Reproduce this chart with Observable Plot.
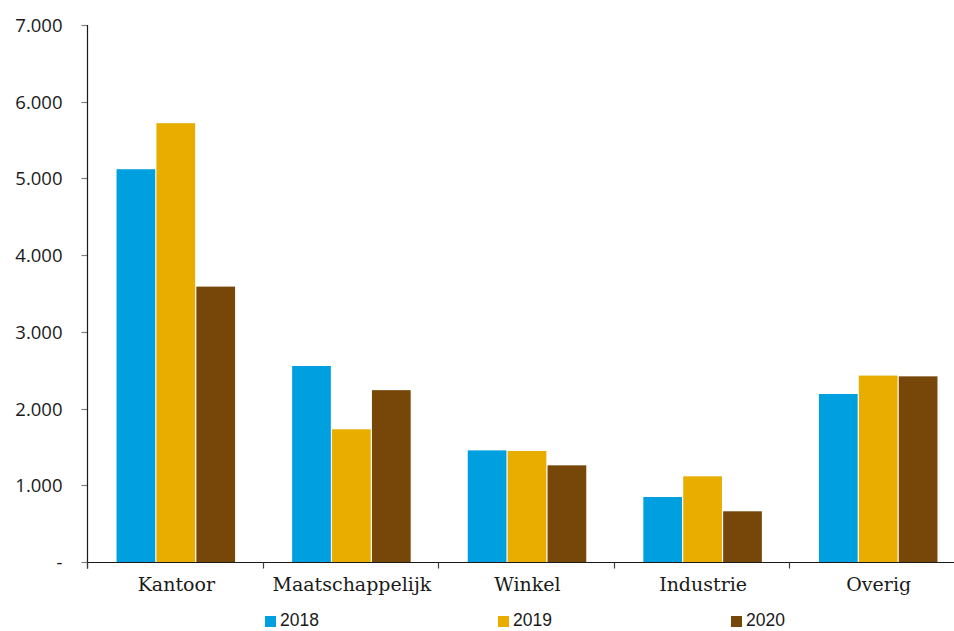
<!DOCTYPE html>
<html><head><meta charset="utf-8">
<script src="https://cdn.jsdelivr.net/npm/d3@7"></script>
<script src="https://cdn.jsdelivr.net/npm/@observablehq/plot@0.6"></script>
<style>
body{margin:0;background:#fff;}
#wrap{position:relative;width:954px;height:631px;overflow:hidden;background:#fff;}
#chart{position:absolute;left:0;top:0;width:966px;}
#chart svg{max-width:none !important;}
#legend{position:absolute;left:265px;top:611px;display:flex;align-items:center;font-family:"Liberation Sans";font-size:17.5px;line-height:19.5px;color:#1a1a1a;}
.item{display:flex;align-items:center;width:233px;}
.sw{width:11px;height:11px;margin-right:4px;margin-top:1px;}
</style></head><body>
<div id="wrap"><div id="chart"></div><div id="legend"></div></div>
<script>
const categories = ["Kantoor", "Maatschappelijk", "Winkel", "Industrie", "Overig"];
const years = ["2018", "2019", "2020"];
const values2018 = [5120, 2555, 1455, 847, 2190];
const values2019 = [5720, 1730, 1447, 1117, 2430];
const values2020 = [3590, 2240, 1260, 661, 2420];
const yTicks = [0, 1000, 2000, 3000, 4000, 5000, 6000, 7000];
const colors = ["#009fe0", "#e9ad00", "#774609"];

const series = [values2018, values2019, values2020];
const data = [];
categories.forEach((c, i) => years.forEach((y, j) => data.push({cat: c, year: y, value: series[j][i]})));

const fmt = d => d === 0 ? "-" : d3.format(",")(d).replace(/,/g, ".");

const plot = Plot.plot({
  width: 966, height: 605,
  marginLeft: 88, marginRight: 0, marginTop: 25, marginBottom: 43,
  style: {fontFamily: "Open Sans", fontSize: "18px", background: "transparent", color: "#1a1a1a", maxWidth: "none"},
  fx: {domain: categories, paddingInner: 0.325, paddingOuter: 0.1625, round: false, label: null},
  x: {domain: years, paddingInner: 0.03, paddingOuter: 0, round: false, axis: null},
  y: {domain: [0, 7000], axis: null},
  color: {domain: years, range: colors},
  marks: [
    Plot.barY(data, {fx: "cat", x: "year", y: "value", fill: "year"}),
    Plot.axisFx({anchor: "bottom", tickSize: 0, tickPadding: 15, label: null, fontFamily: "DejaVu Serif", fontSize: 19, fill: "#1a1a1a"})
  ]
});
document.getElementById("chart").appendChild(plot);

// axes lines & ticks from Plot's scales
const svg = d3.select(plot);
const ys = plot.scale("y");
const yScale = d3.scaleLinear(ys.domain, ys.range);
const fxs = plot.scale("fx");
const half = fxs.step * fxs.paddingInner / 2;
const bounds = categories.map(c => fxs.apply(c) - half);
bounds.push(fxs.apply(categories[categories.length - 1]) + fxs.bandwidth + half);

const g = svg.append("g").attr("stroke-width", 1.2).attr("fill", "none");
const x0 = Math.round(bounds[0]) - 0.5;
const y0 = Math.round(yScale(0)) + 0.5;
// y ticks
yTicks.forEach(t => {
  const yy = Math.round(yScale(t)) + 0.5;
  g.append("line").attr("stroke", "#808080").attr("x1", x0 - 6).attr("x2", x0).attr("y1", yy).attr("y2", yy);
  svg.append("text").attr("x", x0 - 25).attr("y", yy).attr("dy", "0.35em")
    .attr("text-anchor", "end").attr("font-family", "Open Sans").attr("font-size", 18.5)
    .attr("fill", "#1a1a1a").text(fmt(t));
});
// y axis line
g.append("line").attr("stroke", "#1a1a1a").attr("x1", x0).attr("x2", x0).attr("y1", yScale(7000)).attr("y2", y0 + 6);
// baseline
g.append("line").attr("stroke", "#1a1a1a").attr("x1", x0).attr("x2", bounds[bounds.length - 1]).attr("y1", y0).attr("y2", y0);
// category boundary ticks
bounds.forEach(b => {
  const xx = Math.round(b) - 0.5;
  g.append("line").attr("stroke", "#404040").attr("x1", xx).attr("x2", xx).attr("y1", y0).attr("y2", y0 + 6);
});

// legend
const leg = d3.select("#legend");
years.forEach((y, j) => {
  const it = leg.append("div").attr("class", "item");
  it.append("div").attr("class", "sw").style("background", colors[j]);
  it.append("span").text(y);
});
</script>
</body></html>
